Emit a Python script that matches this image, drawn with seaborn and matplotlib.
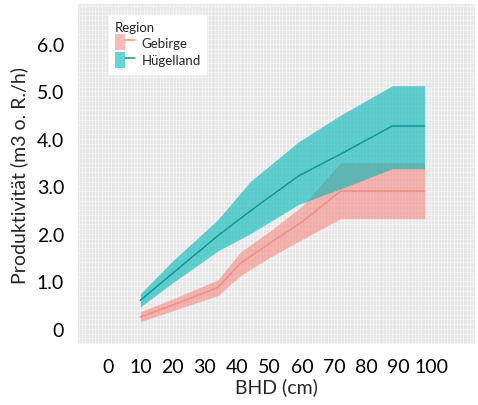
import numpy as np
import pandas as pd
import seaborn as sns
import matplotlib
matplotlib.use("Agg")
import matplotlib.pyplot as plt
from matplotlib.patches import Patch
from matplotlib.lines import Line2D
from matplotlib.ticker import MultipleLocator
from matplotlib.legend_handler import HandlerTuple

# ---- data ----
x_geb = [10, 20, 34, 41, 50, 60, 72, 98]
geb_mid = [0.25, 0.50, 0.87, 1.38, 1.80, 2.25, 2.90, 2.90]
geb_lo = [0.15, 0.38, 0.70, 1.12, 1.50, 1.88, 2.32, 2.32]
geb_hi = [0.36, 0.63, 1.03, 1.62, 2.05, 2.58, 3.50, 3.50]

x_hue = [10, 20, 34, 44, 59, 72, 88, 98]
hue_mid = [0.60, 1.17, 1.96, 2.48, 3.22, 3.68, 4.27, 4.27]
hue_lo = [0.46, 0.97, 1.64, 2.00, 2.62, 2.95, 3.37, 3.37]
hue_hi = [0.74, 1.43, 2.30, 3.10, 3.94, 4.50, 5.12, 5.12]

regions = ["Gebirge", "Hügelland"]
x_ticks = [0, 10, 20, 30, 40, 50, 60, 70, 80, 90, 100]
y_ticks = [0, 1, 2, 3, 4, 5, 6]
y_ticklabels = ["0", "1.0", "2.0", "3.0", "4.0", "5.0", "6.0"]

fill_cols = {"Gebirge": "#F8766D", "Hügelland": "#00B8B8"}
fill_alpha = {"Gebirge": 0.5, "Hügelland": 0.6}
line_cols = {"Gebirge": "#F08E88", "Hügelland": "#0E9896"}

df = pd.concat([
    pd.DataFrame({"BHD": x_geb, "prod": geb_mid, "lo": geb_lo, "hi": geb_hi, "Region": "Gebirge"}),
    pd.DataFrame({"BHD": x_hue, "prod": hue_mid, "lo": hue_lo, "hi": hue_hi, "Region": "Hügelland"}),
], ignore_index=True)

sns.set_theme(style="white")
plt.rcParams["font.family"] = ["Lato", "DejaVu Sans"]

fig = plt.figure(figsize=(4.78, 4.06), dpi=100)
ax = fig.add_axes([78 / 478, 1 - 345 / 406, 397 / 478, 340 / 406])
ax.set_facecolor("#E7E7E7")

for r in regions:
    sub = df[df["Region"] == r]
    ax.fill_between(sub["BHD"], sub["lo"], sub["hi"], color=fill_cols[r],
                    alpha=fill_alpha[r], linewidth=0, zorder=2)

sns.lineplot(data=df, x="BHD", y="prod", hue="Region", palette=line_cols,
             ax=ax, legend=False, linewidth=1.1, zorder=3)

ax.set_xlim(-9.3, 113.6)
ax.set_ylim(-0.32, 6.84)
ax.set_xticks(x_ticks)
ax.set_xticklabels([str(v) for v in x_ticks])
ax.set_yticks(y_ticks)
ax.set_yticklabels(y_ticklabels)
ax.xaxis.set_minor_locator(MultipleLocator(1))
ax.yaxis.set_minor_locator(MultipleLocator(0.1))
ax.grid(which="both", color="white", linewidth=0.5, alpha=0.6, zorder=0)
ax.set_axisbelow(True)
ax.tick_params(axis="both", which="major", labelsize=14, length=3, color="#D0D0D0",
               labelcolor="black", pad=7)
ax.tick_params(axis="both", which="minor", length=0)
for s in ax.spines.values():
    s.set_visible(False)

ax.set_xlabel("BHD (cm)", fontsize=14, labelpad=2)
ax.set_ylabel("Produktivität (m3 o. R./h)", fontsize=14, labelpad=6)

handles = []
for r in regions:
    handles.append((Patch(facecolor=fill_cols[r], alpha=fill_alpha[r], edgecolor="none"),
                    Line2D([], [], color=line_cols[r], linewidth=1.1)))
leg = ax.legend(handles, regions, title="Region", loc="upper left",
                bbox_to_anchor=(0.078, 0.968), fontsize=9.5, title_fontsize=9.5,
                frameon=True, fancybox=False, framealpha=1, edgecolor="white",
                handler_map={tuple: HandlerTuple(ndivide=None, pad=0)},
                handlelength=1.5, handleheight=1.5, handletextpad=0.5,
                labelspacing=0.1, borderpad=0.45, borderaxespad=0)
leg._legend_box.align = "left"

fig.savefig("out.png", dpi=100)
